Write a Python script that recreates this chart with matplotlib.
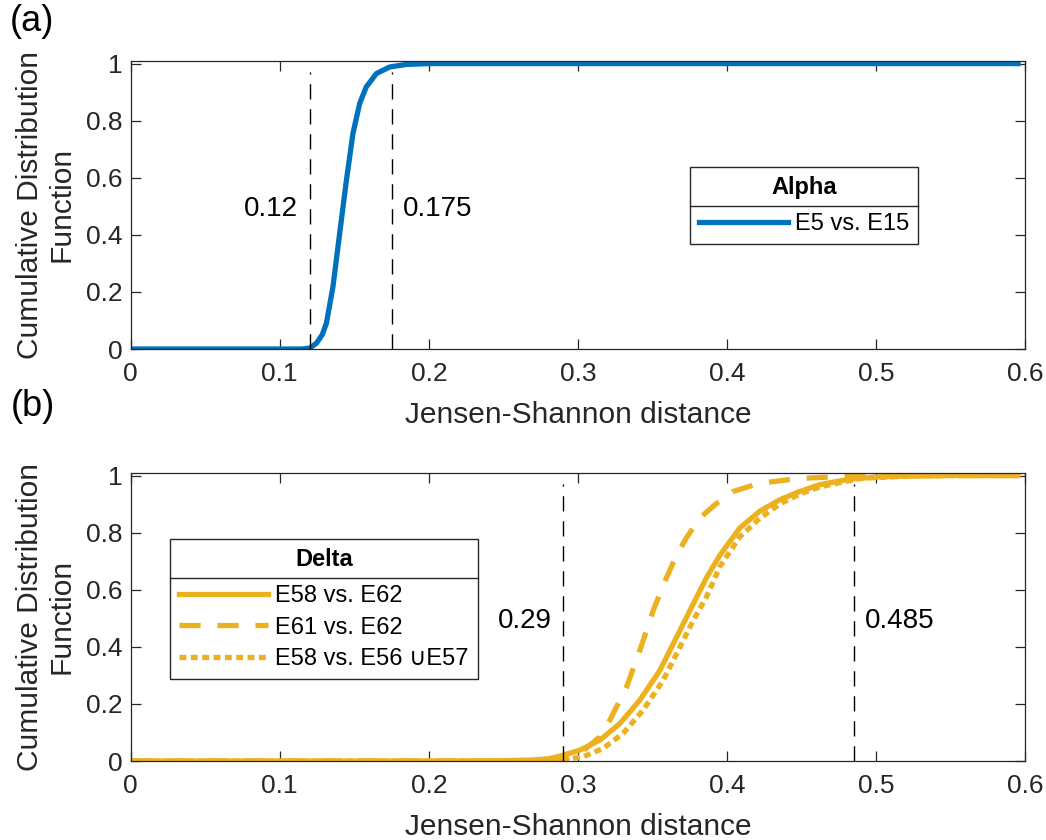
import matplotlib.pyplot as plt
from matplotlib.lines import Line2D

plt.rcParams['font.family'] = ['Liberation Sans', 'DejaVu Sans']

# CDF of Jensen-Shannon distance, alpha variant
alpha_x = [0, 0.10, 0.115, 0.12, 0.1246, 0.1285, 0.1313, 0.1357, 0.1402, 0.1447, 0.1491,
           0.1536, 0.158, 0.1648, 0.1737, 0.1848, 0.20, 0.25, 0.595]
alpha_y = [0, 0, 0, 0.003, 0.02, 0.05, 0.09, 0.218, 0.405, 0.59, 0.755,
           0.86, 0.918, 0.965, 0.988, 0.997, 1.0, 1.0, 1.0]

# delta variant, three comparisons
e58_e62_x = [0, 0.20, 0.25, 0.27, 0.28, 0.2878, 0.3012, 0.3146, 0.328, 0.3414, 0.3548,
             0.366, 0.3771, 0.3861, 0.395, 0.4084, 0.4218, 0.4352, 0.4486, 0.462,
             0.4754, 0.4843, 0.50, 0.52, 0.55, 0.595]
e58_e62_y = [0, 0, 0.001, 0.004, 0.008, 0.017, 0.038, 0.073, 0.131, 0.213, 0.317,
             0.433, 0.549, 0.642, 0.72, 0.816, 0.875, 0.915, 0.944, 0.968,
             0.981, 0.988, 0.995, 0.998, 1.0, 1.0]

e61_e62_x = [0, 0.25, 0.28, 0.29, 0.30, 0.3146, 0.3213, 0.3325, 0.3414, 0.3503,
             0.3593, 0.366, 0.3727, 0.3816, 0.3928, 0.4039, 0.4218, 0.4486, 0.48, 0.52, 0.595]
e61_e62_y = [0, 0, 0.001, 0.005, 0.02, 0.085, 0.143, 0.259, 0.387, 0.526,
             0.642, 0.72, 0.782, 0.851, 0.902, 0.944, 0.973, 0.99, 0.997, 1.0, 1.0]

e58_union_x = [0, 0.25, 0.28, 0.29, 0.3034, 0.3168, 0.3302, 0.3436, 0.357, 0.3682,
               0.3771, 0.3861, 0.395, 0.4084, 0.4218, 0.4352, 0.4486, 0.462, 0.4754,
               0.49, 0.52, 0.55, 0.595]
e58_union_y = [0, 0, 0.002, 0.005, 0.015, 0.044, 0.097, 0.178, 0.282, 0.398,
               0.491, 0.575, 0.68, 0.785, 0.85, 0.9, 0.935, 0.96, 0.975,
               0.99, 0.998, 1.0, 1.0]

alpha_cuts = [0.12, 0.175]
delta_cuts = [0.29, 0.485]

xticks = [0, 0.1, 0.2, 0.3, 0.4, 0.5, 0.6]
xticklabels = ['0', '0.1', '0.2', '0.3', '0.4', '0.5', '0.6']
yticks = [0, 0.2, 0.4, 0.6, 0.8, 1.0]
yticklabels = ['0', '0.2', '0.4', '0.6', '0.8', '1']

blue = '#0072BD'
yellow = '#EDB120'
axcol = '#262626'

fig = plt.figure(figsize=(10.46, 8.4), dpi=100)
ax1 = fig.add_axes([0.1248, 0.5845, 0.8556, 0.3432])
ax2 = fig.add_axes([0.1248, 0.094, 0.8556, 0.3433])


def style_axes(ax):
    ax.set_xlim(0, 0.6)
    ax.set_ylim(0, 1.01)
    ax.set_xticks(xticks)
    ax.set_xticklabels(xticklabels)
    ax.set_yticks(yticks)
    ax.set_yticklabels(yticklabels)
    ax.tick_params(direction='in', length=7, width=0.9, colors=axcol,
                   labelsize=19, top=True, right=True)
    ax.tick_params(axis='x', pad=9)
    ax.tick_params(axis='y', pad=6)
    for s in ax.spines.values():
        s.set_color(axcol)
        s.set_linewidth(0.9)
    ax.set_xlabel('Jensen-Shannon distance', fontsize=21.5, color=axcol, labelpad=11)
    ax.set_ylabel('Cumulative Distribution\nFunction', fontsize=21.5, color=axcol,
                  multialignment='center', linespacing=1.15)
    ax.yaxis.set_label_coords(-0.062, 0.5)


def add_cut(ax, x, side):
    ax.plot([x, x], [0, 0.97], color='black', lw=1.0, dashes=(11, 7))
    off = 0.0075
    if side == 'left':
        ax.text(x - off, 0.49, f'{x:g}', ha='right', va='center', fontsize=20)
    else:
        ax.text(x + off, 0.49, f'{x:g}', ha='left', va='center', fontsize=20)


def add_separator(leg):
    # horizontal rule between the legend title and its entries
    fig.canvas.draw()
    r = fig.canvas.get_renderer()
    fb = leg.get_frame().get_window_extent(r)
    tb = leg.get_title().get_window_extent(r)
    first = leg.get_texts()[0].get_window_extent(r)
    y = 0.5 * (tb.y0 + first.y1)
    inv = fig.transFigure.inverted()
    (x0, yy), (x1, _) = inv.transform([(fb.x0, y), (fb.x1, y)])
    fig.add_artist(Line2D([x0, x1], [yy, yy], color=axcol, lw=1.0))


leg_kw = dict(loc='upper left', fontsize=17,
              title_fontproperties={'weight': 'bold', 'size': 17},
              frameon=True, fancybox=False, framealpha=1, edgecolor=axcol,
              handlelength=3.8, handletextpad=0.3, borderpad=0.37, borderaxespad=0,
              labelspacing=0.4)

# panel (a)
style_axes(ax1)
ax1.plot(alpha_x, alpha_y, color=blue, lw=3.8, label='E5 vs. E15')
add_cut(ax1, alpha_cuts[0], 'left')
add_cut(ax1, alpha_cuts[1], 'right')
leg1 = ax1.legend(title='Alpha', bbox_to_anchor=(0.625, 0.632), **leg_kw)
leg1.get_frame().set_linewidth(1.0)
leg1._legend_box.sep = 10.4

# panel (b)
style_axes(ax2)
ax2.plot(e58_e62_x, e58_e62_y, color=yellow, lw=3.8, label='E58 vs. E62')
ax2.plot(e61_e62_x, e61_e62_y, color=yellow, lw=3.8, dashes=(4.0, 3.2), label='E61 vs. E62')
ax2.plot(e58_union_x, e58_union_y, color=yellow, lw=3.8, dashes=(1.3, 0.85),
         label='E58 vs. E56 \u222aE57')
add_cut(ax2, delta_cuts[0], 'left')
add_cut(ax2, delta_cuts[1], 'right')
leg2 = ax2.legend(title='Delta', bbox_to_anchor=(0.044, 0.77), **leg_kw)
leg2.get_frame().set_linewidth(1.0)
leg2._legend_box.sep = 10.4

fig.text(0.031, 0.974, '(a)', fontsize=26, ha='center', va='center')
fig.text(0.031, 0.516, '(b)', fontsize=26, ha='center', va='center')

add_separator(leg1)
add_separator(leg2)

fig.savefig('out.png', dpi=100)
